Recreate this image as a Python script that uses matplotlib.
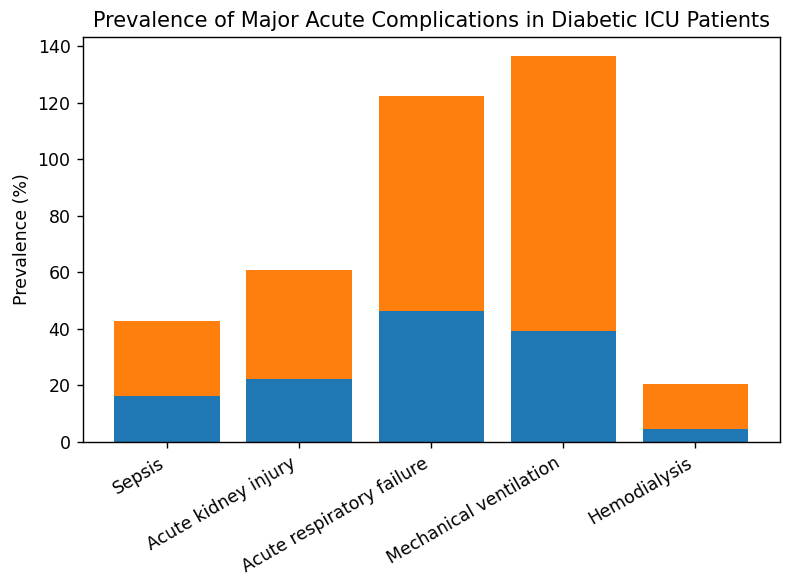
import matplotlib
matplotlib.use("Agg")
import matplotlib.pyplot as plt

categories = ["Sepsis", "Acute kidney injury", "Acute respiratory failure",
              "Mechanical ventilation", "Hemodialysis"]
series_a = [16.4, 22.3, 46.3, 39.3, 4.5]
series_b_total = [42.8, 60.8, 122.4, 136.5, 20.6]
series_b = [t - a for t, a in zip(series_b_total, series_a)]

fig, ax = plt.subplots(figsize=(795 / 125, 581 / 125), dpi=125)
x = range(len(categories))
ax.bar(x, series_a, color="#1f77b4")
ax.bar(x, series_b, bottom=series_a, color="#ff7f0e")
ax.set_xticks(list(x))
ax.set_xticklabels(categories, rotation=30, ha="right")
ax.set_ylabel("Prevalence (%)")
ax.set_title("Prevalence of Major Acute Complications in Diabetic ICU Patients")
fig.subplots_adjust(left=82.7 / 795, right=780 / 795, top=1 - 37 / 581, bottom=1 - 442 / 581)
fig.savefig("out.png", dpi=125)
